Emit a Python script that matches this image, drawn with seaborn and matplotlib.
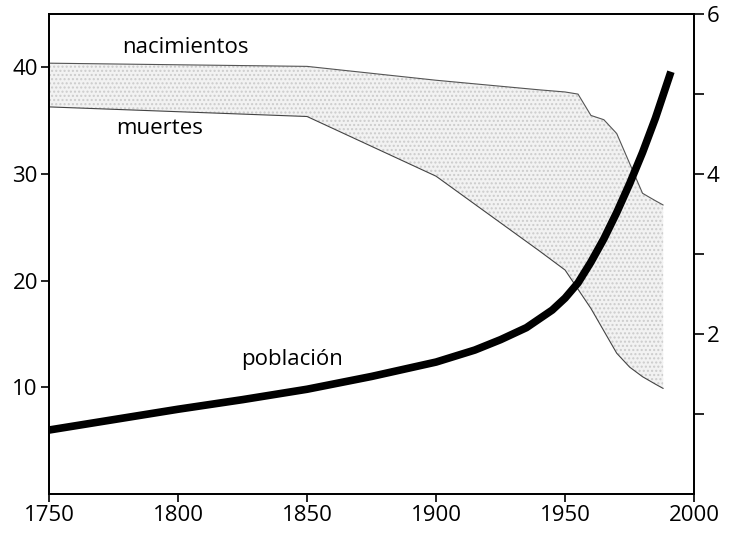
import numpy as np
import pandas as pd
import matplotlib
matplotlib.use("Agg")
import matplotlib.pyplot as plt
import seaborn as sns

# ---- data ----
rate_years = [1750, 1850, 1900, 1940, 1950, 1955, 1960, 1965, 1970, 1975, 1980, 1985, 1988]
nacimientos = [40.4, 40.1, 38.8, 37.9, 37.7, 37.5, 35.5, 35.1, 33.8, 31.0, 28.2, 27.5, 27.1]
muertes = [36.3, 35.4, 29.8, 22.8, 21.0, 19.2, 17.4, 15.3, 13.2, 11.9, 11.0, 10.3, 9.9]

pop_years = [1750, 1775, 1800, 1825, 1850, 1875, 1900, 1915, 1925, 1935, 1945,
             1950, 1955, 1960, 1965, 1970, 1975, 1980, 1985, 1991]
poblacion = [0.80, 0.93, 1.06, 1.18, 1.31, 1.47, 1.65, 1.80, 1.93, 2.08, 2.30,
             2.45, 2.64, 2.90, 3.19, 3.52, 3.88, 4.27, 4.70, 5.28]

x_ticks = [1750, 1800, 1850, 1900, 1950, 2000]
left_ticks = [10, 20, 30, 40]
right_major = [2, 4, 6]
right_minor = [1, 3, 5]

sns.set_style("ticks")
plt.rcParams['font.family'] = ['Open Sans', 'DejaVu Sans']
plt.rcParams['text.color'] = 'black'
plt.rcParams['xtick.color'] = 'black'
plt.rcParams['ytick.color'] = 'black'
plt.rcParams['axes.edgecolor'] = 'black'

fig = plt.figure(figsize=(7.29, 5.35), dpi=100)
ax = fig.add_axes([0.0672, 0.0766, 0.885, 0.897])

df_rates = pd.DataFrame({"year": rate_years, "nac": nacimientos, "mue": muertes})
ax.fill_between(df_rates["year"], df_rates["mue"], df_rates["nac"],
                facecolor="#f2f2f2", edgecolor="#cccccc", hatch="....", linewidth=0)
sns.lineplot(data=df_rates, x="year", y="nac", ax=ax, color="#555555", lw=0.8)
sns.lineplot(data=df_rates, x="year", y="mue", ax=ax, color="#444444", lw=0.8)

ax.set_xlim(1750, 2000)
ax.set_ylim(0, 45)
ax.set_xticks(x_ticks)
ax.set_yticks(left_ticks)
ax.set_xlabel("")
ax.set_ylabel("")
ax.tick_params(axis="both", labelsize=16, length=6, width=1.2, direction="out", pad=2)
for s in ax.spines.values():
    s.set_linewidth(1.3)
    s.set_visible(True)

ax2 = ax.twinx()
df_pop = pd.DataFrame({"year": pop_years, "pop": poblacion})
sns.lineplot(data=df_pop, x="year", y="pop", ax=ax2, color="black", lw=5.5,
             solid_capstyle="butt", solid_joinstyle="round")
ax2.set_ylim(0, 6)
ax2.set_yticks(right_major)
ax2.set_yticks(right_minor, minor=True)
ax2.set_ylabel("")
ax2.tick_params(axis="y", which="major", labelsize=16, length=7, width=1.2, direction="out", pad=2)
ax2.tick_params(axis="y", which="minor", length=7, width=1.2, direction="out")
for s in ax2.spines.values():
    s.set_linewidth(1.3)
    s.set_visible(True)

ax.text(1778.5, 41.9, "nacimientos", fontsize=16, ha="left", va="center")
ax.text(1776, 34.3, "muertes", fontsize=16, ha="left", va="center")
ax.text(1824.5, 12.6, "población", fontsize=16, ha="left", va="center")

fig.savefig("out.png", dpi=100)
